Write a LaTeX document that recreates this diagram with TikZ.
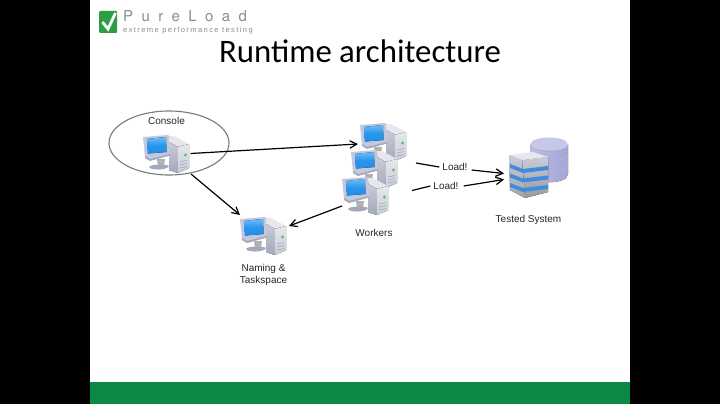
\documentclass[tikz,border=0pt]{standalone}
\usepackage{fontspec}
\setmainfont{Liberation Sans}
\newfontfamily\titlefont{Carlito}
\newfontfamily\logofont[LetterSpace=56]{TeX Gyre Heros}
\newfontfamily\tagfont[LetterSpace=18]{Liberation Sans}
\usetikzlibrary{arrows.meta,calc}
\definecolor{barGreen}{HTML}{0B8A47}
\definecolor{logoGreen}{HTML}{2E9E45}
\definecolor{logoGray}{HTML}{8A8F8E}
\definecolor{ringGray}{HTML}{6F7F7C}
\definecolor{screenBlue}{HTML}{1E8FEA}
\definecolor{screenLight}{HTML}{6DBDF4}
\definecolor{frameBlue}{HTML}{C3C8DE}
\definecolor{caseLight}{HTML}{E6E8EE}
\definecolor{caseMid}{HTML}{C9CCD8}
\definecolor{caseDark}{HTML}{A3A8BA}
\definecolor{dbPurple}{HTML}{BDBDE6}
\definecolor{dbDark}{HTML}{A5A5D6}
\definecolor{stripeBlue}{HTML}{3F8BDE}
\tikzset{
  x=1pt,y=-1pt,
  lbl/.style={font=\fontsize{10}{12}\selectfont,align=center,inner sep=0pt,text=black!85},
  hostbox/.style={minimum width=48pt,minimum height=38pt,inner sep=0pt,outer sep=0pt},
  conn/.style={draw=black,line width=1.2pt,-{Straight Barb[length=7pt,width=7.5pt,line width=1.2pt]},shorten >=0pt},
  plainconn/.style={draw=black,line width=1.2pt},
  computer/.pic={
    % tower
    \fill[caseLight] (25,1) -- (31,1) -- (46,9) -- (35,12) -- (27,7) -- cycle;
    \fill[top color=caseMid,bottom color=caseDark] (26,7) -- (35,12) -- (35,38) -- (26,35) -- cycle;
    \fill[top color=caseLight,bottom color=caseMid] (35,12) -- (46,9) -- (46,33) -- (35,38) -- cycle;
    \fill[green!70!black!70] (42.5,20) circle (1.6);
    \draw[caseDark,line width=.6pt] (37,27) -- (44,25.5) (37,30) -- (44,28.5) (37,33) -- (44,31.5);
    % stand
    \fill[gray!60] (14,24) -- (22,24) -- (21,31) -- (15,31) -- cycle;
    \fill[caseDark] (6,32) .. controls (7,29) and (24,29) .. (26,31) .. controls (25,35) and (8,36) .. (6,32) -- cycle;
    % monitor
    \fill[frameBlue] (0,2) -- (25,0) -- (26,1) -- (27,20) -- (7,25) -- (2,22) -- cycle;
    \fill[caseDark] (2,21) -- (7,24) -- (27,19) -- (27,20.5) -- (7,26) -- (2,23) -- cycle;
    \fill[top color=screenLight,bottom color=screenBlue,middle color=screenBlue!85!screenLight] (4,4) -- (23,2) -- (23.5,17) -- (5,18.5) -- cycle;
  },
}
\begin{document}
\begin{tikzpicture}
\useasboundingbox (0,0) rectangle (720,404);
\fill[white] (0,0) rectangle (720,404);
\fill[black] (0,0) rectangle (90,404);
\fill[black] (630,0) rectangle (720,404);
\fill[barGreen] (90,382) rectangle (630,404);
% logo
\fill[logoGreen,rounded corners=1pt] (99,11) rectangle (117,33);
\draw[white,line width=2.8pt,line join=miter] (102.5,22) -- (108,29) -- (115.5,13);
\node[inner sep=0pt,anchor=west,text=logoGray] (brand) at (123,16) {\logofont\fontsize{15}{17}\selectfont PureLoad};
\node[inner sep=0pt,anchor=west,text=logoGray] (tagline) at (123,31) {\tagfont\fontsize{7.6}{9}\selectfont extreme performance testing};
% title
\node[inner sep=0pt,font=\titlefont\fontsize{32.8}{38}\selectfont] (title) at (360,51) {Runtime architecture};
% hosts
\node[hostbox] (console) at (167,153.5) {};
\pic at (143,135) {computer};
\node[hostbox] (worker1) at (384,142) {};
\pic at (360,123) {computer};
\node[hostbox] (worker2) at (375,169) {};
\pic at (351,150) {computer};
\node[hostbox] (worker3) at (366,196) {};
\pic at (342,177) {computer};
\node[hostbox] (naming) at (264,235.5) {};
\pic at (240,217) {computer};
% ring
\draw[ringGray,line width=1.1pt] (169,143) ellipse [x radius=60, y radius=32];
% tested system
\node[minimum width=59pt,minimum height=60pt,inner sep=0pt] (system) at (537.5,168) {};
\fill[left color=dbPurple,right color=dbDark] (530,145) -- (530,174) .. controls (530,185) and (568,185) .. (568,174) -- (568,145) -- cycle;
\fill[dbPurple!85!white] (530,145) .. controls (530,135) and (568,135) .. (568,145) .. controls (568,153) and (530,153) .. (530,145) -- cycle;
\draw[dbDark!80!black!70,line width=.6pt] (530,145) .. controls (530,153) and (568,153) .. (568,145);
\draw[dbDark!80!black!60,line width=.5pt] (530,155) .. controls (530,163) and (568,163) .. (568,155);
\draw[dbDark!80!black!60,line width=.5pt] (530,165) .. controls (530,173) and (568,173) .. (568,165);
\fill[top color=caseMid,bottom color=gray!80] (522,160) -- (548,157) -- (548,192) -- (525,198) -- cycle;
\fill[top color=caseMid,bottom color=gray!70] (509,155) -- (522,160) -- (525,198) -- (510,190) -- cycle;
\fill[caseLight] (509,155) -- (533,152) -- (548,157) -- (522,160) -- cycle;
\foreach \yy in {0,9.5,19}
  \fill[stripeBlue] (510,164+\yy) -- (523,169+\yy) -- (548,166+\yy) -- (548,170+\yy) -- (523,173+\yy) -- (510,168+\yy) -- cycle;
% labels
\node[lbl] (consoleLabel) at (166.5,121) {Console};
\node[lbl] (workersLabel) at (374,233) {Workers};
\node[lbl] (namingLabel) at (263.5,274.5) {Naming \&\\Taskspace};
\node[lbl] (systemLabel) at (528.5,220) {Tested System};
\node[lbl,inner xsep=3pt] (load1) at (455,167) {Load!};
\node[lbl,inner xsep=3pt] (load2) at (446,186) {Load!};
% connectors
\coordinate (c1) at (190.5,153.5);
\coordinate (c2) at (358,144);
\coordinate (c3) at (191,174);
\coordinate (c4) at (240,215);
\coordinate (c5) at (342,206);
\coordinate (c6) at (289,226);
\coordinate (l1) at (416,163);
\coordinate (l2) at (412,190.5);
\coordinate (t1) at (504,173.5);
\coordinate (t2) at (504,179.5);
\draw[conn] (c1) -- (c2);
\draw[conn] (c3) -- (c4);
\draw[conn] (c5) -- (c6);
\draw[plainconn] (l1) -- (load1.west);
\draw[conn] (load1.east) ++(1,3) -- (t1);
\draw[plainconn] (l2) -- (load2.west);
\draw[conn] (load2.east) ++(2,0) -- (t2);
\end{tikzpicture}
\end{document}
